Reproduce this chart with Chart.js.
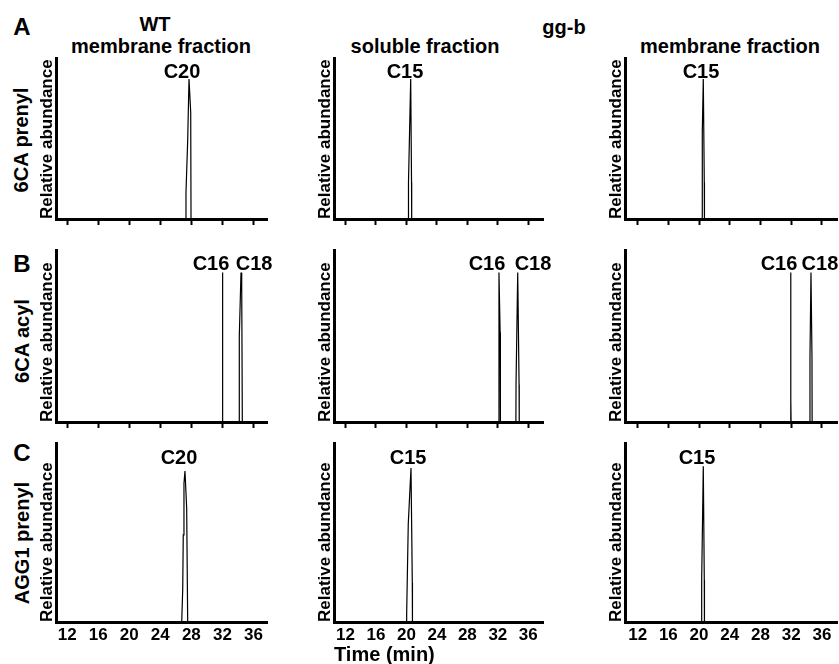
<!DOCTYPE html>
<html><head><meta charset="utf-8">
<script src="https://cdn.jsdelivr.net/npm/chart.js@4.4.1/dist/chart.umd.min.js"></script>
<style>
html,body{margin:0;padding:0;background:#fff;overflow:hidden;}
#wrap{position:relative;width:839px;height:664px;overflow:hidden;font-family:"Liberation Sans",Arial,Helvetica,sans-serif;font-weight:bold;color:#000;}
canvas{position:absolute;}
.t{position:absolute;white-space:nowrap;line-height:1;font-size:20px;transform:translate(-50%,-50%);}
.r{transform:translate(-50%,-50%) rotate(-90deg);}
.big{font-size:24px;}
</style></head><body>
<div id="wrap">
  <div class="t big" style="left:22px;top:27px">A</div>
  <div class="t big" style="left:22px;top:264px">B</div>
  <div class="t big" style="left:22px;top:453px">C</div>
  <div class="t" style="left:155px;top:24px">WT</div>
  <div class="t" style="left:161px;top:45.5px">membrane fraction</div>
  <div class="t" style="left:564px;top:26.5px">gg-b</div>
  <div class="t" style="left:425px;top:45.5px">soluble fraction</div>
  <div class="t" style="left:730px;top:46px">membrane fraction</div>
  <div class="t r" style="left:21px;top:140px">6CA prenyl</div>
  <div class="t r" style="left:22px;top:341px">6CA acyl</div>
  <div class="t r" style="left:21.5px;top:543px">AGG1 prenyl</div>
</div>
<script>
// ---- data (retention time in min, relative abundance) ----
const timeTicks = [12, 16, 20, 24, 28, 32, 36];

// Row A: 6CA prenyl
const wtMemPrenylTime  = [10.56, 27.27, 27.31, 27.53, 27.70, 27.92, 27.96, 37.75];
const wtMemPrenylAbund = [0, 0, 0.19, 0.56, 1.0, 0.76, 0, 0];
const ggbSolPrenylTime  = [10.49, 20.25, 20.27, 20.56, 20.67, 20.69, 37.93];
const ggbSolPrenylAbund = [0, 0, 0.26, 1.0, 0.26, 0, 0];
const ggbMemPrenylTime  = [10.35, 20.40, 20.42, 20.55, 20.68, 20.70, 37.97];
const ggbMemPrenylAbund = [0, 0, 0.62, 1.0, 0.26, 0, 0];

// Row B: 6CA acyl
const wtMemAcylTime  = [10.56, 31.96, 31.99, 32.03, 32.05, 32.06, 34.16, 34.18, 34.40, 34.49, 34.57, 37.75];
const wtMemAcylAbund = [0, 0, 1.0, 0.70, 0.55, 0, 0, 0.57, 1.0, 0.93, 0, 0];
const ggbSolAcylTime  = [10.49, 32.10, 32.15, 32.30, 32.32, 32.35, 34.37, 34.39, 34.61, 34.79, 34.81, 37.93];
const ggbSolAcylAbund = [0, 0, 1.0, 0.60, 0.44, 0, 0, 0.25, 1.0, 0.25, 0, 0];
const ggbMemAcylTime  = [10.35, 31.90, 31.93, 31.95, 31.97, 31.99, 34.43, 34.45, 34.58, 34.71, 34.73, 37.97];
const ggbMemAcylAbund = [0, 0, 1.0, 0.79, 0.15, 0, 0, 0.44, 1.0, 0.44, 0, 0];

// Row C: AGG1 prenyl
const wtMemAggTime  = [10.56, 26.76, 26.89, 26.96, 27.05, 27.18, 27.31, 27.40, 27.53, 37.75];
const wtMemAggAbund = [0, 0, 0.21, 0.56, 0.89, 0.97, 0.83, 0.73, 0, 0];
const ggbSolAggTime  = [10.49, 20.00, 20.03, 20.24, 20.60, 20.77, 20.79, 37.93];
const ggbSolAggAbund = [0, 0, 0.05, 0.63, 0.99, 0.25, 0, 0];
const ggbMemAggTime  = [10.35, 20.32, 20.34, 20.55, 20.68, 20.70, 37.97];
const ggbMemAggAbund = [0, 0, 0.27, 1.0, 0.27, 0, 0];

// peak labels (text and retention-time anchor)
const rowAPeakNames = [['C20'], ['C15'], ['C15']];
const rowAPeakX     = [[26.80], [19.81], [20.25]];
const rowBPeakNames = [['C16', 'C18'], ['C16', 'C18'], ['C16', 'C18']];
const rowBPeakX     = [[30.53, 36.08], [30.58, 36.62], [30.41, 35.75]];
const rowCPeakNames = [['C20'], ['C15'], ['C15']];
const rowCPeakX     = [[26.41], [20.21], [19.73]];
const labelLevel = 1.05;

// ---- layout ----
const FONT = '"Liberation Sans", Arial, Helvetica, sans-serif';
const colLeft  = [56, 334, 625];
const colRight = [267, 543, 837];
const rowTop    = [58, 250, 443];
const rowBottom = [219, 422, 622];
const colRange = [[10.56, 37.75], [10.49, 37.93], [10.35, 37.97]];
const yW = 22, padTop = 4;
const xH = [8, 8, 42];
const padRight = [10, 12, 2];

const traceTimes = [
  [wtMemPrenylTime, ggbSolPrenylTime, ggbMemPrenylTime],
  [wtMemAcylTime, ggbSolAcylTime, ggbMemAcylTime],
  [wtMemAggTime, ggbSolAggTime, ggbMemAggTime]
];
const traceAbund = [
  [wtMemPrenylAbund, ggbSolPrenylAbund, ggbMemPrenylAbund],
  [wtMemAcylAbund, ggbSolAcylAbund, ggbMemAcylAbund],
  [wtMemAggAbund, ggbSolAggAbund, ggbMemAggAbund]
];
const peakNames = [rowAPeakNames, rowBPeakNames, rowCPeakNames];
const peakX = [rowAPeakX, rowBPeakX, rowCPeakX];

function peakLabelPlugin(names, xs) {
  return {
    id: 'peakLabels',
    afterDatasetsDraw(chart) {
      const ctx = chart.ctx, xs_ = chart.scales.x, ys_ = chart.scales.y;
      ctx.save();
      ctx.font = 'bold 20px ' + FONT;
      ctx.fillStyle = '#000';
      ctx.textAlign = 'center';
      ctx.textBaseline = 'middle';
      names.forEach((n, i) => ctx.fillText(n, xs_.getPixelForValue(xs[i]), ys_.getPixelForValue(labelLevel)));
      ctx.restore();
    }
  };
}

const wrap = document.getElementById('wrap');
for (let r = 0; r < 3; r++) {
  for (let c = 0; c < 3; c++) {
    const L = colLeft[c], R = colRight[c], T = rowTop[r], B = rowBottom[r];
    const w = R - L + yW + padRight[c];
    const h = B - T + padTop + xH[r];
    const cv = document.createElement('canvas');
    cv.width = w; cv.height = h;
    cv.style.left = (L - yW) + 'px';
    cv.style.top = (T - padTop) + 'px';
    cv.style.width = w + 'px';
    cv.style.height = h + 'px';
    wrap.appendChild(cv);
    const times = traceTimes[r][c], vals = traceAbund[r][c];
    const data = times.map((t, i) => ({x: t, y: vals[i]}));
    const isBottom = r === 2;
    new Chart(cv, {
      type: 'line',
      data: {datasets: [{data, borderColor: '#000', borderWidth: 1.2, pointRadius: 0, tension: 0, fill: false}]},
      options: {
        responsive: false, animation: false, devicePixelRatio: 1,
        layout: {padding: {left: 0, top: padTop, right: padRight[c], bottom: 0}},
        plugins: {legend: {display: false}, tooltip: {enabled: false}},
        scales: {
          x: {
            type: 'linear', min: colRange[c][0], max: colRange[c][1],
            afterBuildTicks: s => { s.ticks = timeTicks.map(v => ({value: v})); },
            afterFit: s => { s.height = xH[r]; },
            ticks: {display: isBottom, autoSkip: false, maxRotation: 0, padding: 3, color: '#000',
                    font: {family: FONT, size: 17, weight: 'bold'}},
            grid: {display: true, drawOnChartArea: false, drawTicks: !isBottom, tickLength: 6, tickWidth: 2, tickColor: '#000'},
            border: {display: true, width: 3, color: '#000'},
            title: {display: isBottom && c === 1, text: 'Time (min)', align: 'start', color: '#000',
                    font: {family: FONT, size: 20, weight: 'bold', lineHeight: 0.9}, padding: {top: 0, bottom: 0}}
          },
          y: {
            min: 0, max: 1.15,
            afterFit: s => { s.width = yW; },
            ticks: {display: false},
            grid: {display: false},
            border: {display: true, width: 3, color: '#000'},
            title: {display: true, text: 'Relative abundance', align: 'start', color: '#000',
                    font: {family: FONT, size: 17, weight: 'bold', lineHeight: 1}, padding: {top: 4.5, bottom: 0}}
          }
        }
      },
      plugins: [peakLabelPlugin(peakNames[r][c], peakX[r][c])]
    });
  }
}
</script>
</body></html>
